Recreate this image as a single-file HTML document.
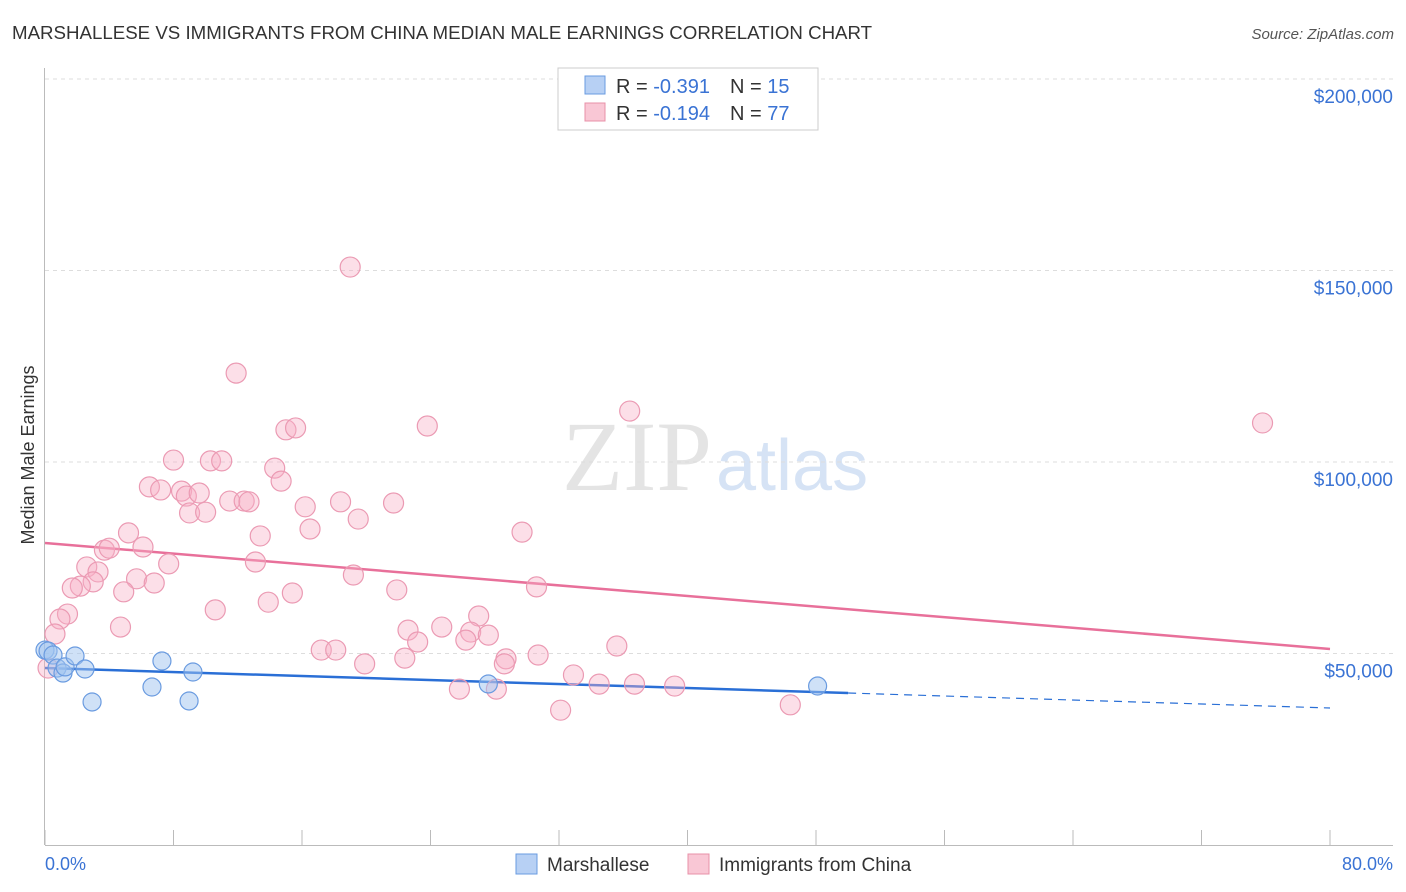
<!DOCTYPE html>
<html><head><meta charset="utf-8"><style>
body{margin:0;background:#fff;font-family:"Liberation Sans",sans-serif}
svg{display:block}
</style></head><body>
<svg id="chart" width="1406" height="892">
<text x="12" y="39" font-size="18.7" fill="#333">MARSHALLESE VS IMMIGRANTS FROM CHINA MEDIAN MALE EARNINGS CORRELATION CHART</text>
<text x="1394" y="39" font-size="15" fill="#555" font-style="italic" text-anchor="end">Source: ZipAtlas.com</text>
<text x="712" y="490" font-size="100" fill="#e4e4e4" text-anchor="end" font-family="Liberation Serif,serif">ZIP</text>
<text x="716" y="490" font-size="72" fill="#d6e3f5">atlas</text>
<text transform="translate(34,455) rotate(-90)" font-size="18" fill="#333" text-anchor="middle">Median Male Earnings</text>
<g id="grid"></g><g id="axes"></g><g id="trends"></g><g id="pts"></g>
<g>
<rect x="558" y="68" width="260" height="62" fill="#fff" stroke="#ccc"/>
<rect x="585" y="76" width="20" height="18" fill="#b7d0f4" stroke="#6a9be0"/>
<text x="616" y="93" font-size="20" fill="#333">R = <tspan fill="#3a73d4">-0.391</tspan><tspan dx="20">N = </tspan><tspan fill="#3a73d4">15</tspan></text>
<rect x="585" y="103" width="20" height="18" fill="#f9c7d5" stroke="#e890a8"/>
<text x="616" y="120" font-size="20" fill="#333">R = <tspan fill="#3a73d4">-0.194</tspan><tspan dx="20">N = </tspan><tspan fill="#3a73d4">77</tspan></text>
</g>
<text x="45" y="870" font-size="18" fill="#3a73d4">0.0%</text>
<text x="1393" y="870" font-size="18" fill="#3a73d4" text-anchor="end">80.0%</text>
<g>
<rect x="516" y="854" width="21" height="20" fill="#b7d0f4" stroke="#6a9be0"/>
<text x="547" y="871" font-size="19" fill="#333">Marshallese</text>
<rect x="688" y="854" width="21" height="20" fill="#f9c7d5" stroke="#e890a8"/>
<text x="719" y="871" font-size="19" fill="#333">Immigrants from China</text>
</g>
</svg>
<script>
const yTicks=[50000,100000,150000,200000];
const yTickLabels=["$50,000","$100,000","$150,000","$200,000"];
const xTicks=[0,8,16,24,32,40,48,56,64,72,80];
const blueX=[0,0.19,0.5,0.75,1.12,1.25,1.87,2.49,2.93,6.66,7.28,8.97,9.21,27.6,48.1];
const blueY=[50900,50650,49600,46200,44900,46500,49350,45950,37340,41250,48040,37600,45170,42040,41510];
const pinkX=[19.0,11.9,36.4,75.8,23.8,15.0,15.6,8.0,10.3,11.0,14.3,14.7,6.5,7.2,8.5,8.8,9.6,11.5,12.4,12.7,18.4,21.7,16.2,9.0,10.0,19.5,16.5,29.7,5.2,13.4,6.1,3.7,4.0,13.1,7.7,2.6,3.3,19.2,5.7,3.0,2.2,1.7,6.8,30.6,4.9,21.9,15.4,13.9,10.6,1.4,0.93,27.0,4.7,0.62,22.6,24.7,26.5,27.6,26.2,23.2,35.6,17.2,18.1,30.7,28.7,22.4,28.6,19.9,0.19,32.9,34.5,36.7,39.2,25.8,28.1,32.1,46.4];
const pinkY=[150900,123200,113300,110200,109400,108400,108900,100500,100300,100300,98400,95000,93500,92700,92400,91100,91900,89800,89800,89600,89600,89300,88300,86700,86900,85100,82500,81700,81500,80700,77800,77000,77500,73900,73400,72600,71300,70500,69500,68700,67600,67100,68400,67400,66100,66600,65800,63400,61400,60300,59000,59800,56900,55100,56100,56900,55600,54800,53500,53000,51960,50900,50900,49600,48600,48800,47300,47300,46200,44400,42000,42000,41500,40700,40700,35200,36600];
const pinkTrend=[78850,51180];
const blueTrend=[46200,35770];
const blueSolidEnd=50;
const NS="http://www.w3.org/2000/svg";
const xs=v=>45+v/80*1285;
const ys=v=>845-v/50000*191.5;
function mk(t,a,p){const e=document.createElementNS(NS,t);for(const k in a)e.setAttribute(k,a[k]);document.getElementById(p).appendChild(e);return e;}
yTicks.forEach((t,i)=>{
 const l=mk('line',{x1:45,x2:1393,y1:ys(t),y2:ys(t),stroke:'#ddd','stroke-dasharray':'4,4'},'grid');
 
 
 const tx=mk('text',{x:1393,y:ys(t)+24,'font-size':19,fill:'#3a73d4','text-anchor':'end'},'grid');
 tx.textContent=yTickLabels[i];
 
 
});
let a=mk('line',{x1:44.5,x2:44.5,y1:68,y2:845,stroke:'#bbb'},'axes');


a=mk('line',{x1:45,x2:1393,y1:845.5,y2:845.5,stroke:'#bbb'},'axes');


xTicks.forEach(t=>{
 const l=mk('line',{x1:xs(t),x2:xs(t),y1:830,y2:845,stroke:'#bbb'},'axes');
 
 
});
const pt=(x)=>pinkTrend[0]+(pinkTrend[1]-pinkTrend[0])*x/80;
const bt=(x)=>blueTrend[0]+(blueTrend[1]-blueTrend[0])*x/80;
let t=mk('line',{x1:xs(0),y1:ys(pt(0)),x2:xs(80),y2:ys(pt(80)),stroke:'#e8709a','stroke-width':2.5},'trends');


t=mk('line',{x1:xs(0),y1:ys(bt(0)),x2:xs(blueSolidEnd),y2:ys(bt(blueSolidEnd)),stroke:'#2a6fd6','stroke-width':2.5},'trends');


t=mk('line',{x1:xs(blueSolidEnd),y1:ys(bt(blueSolidEnd)),x2:xs(80),y2:ys(bt(80)),stroke:'#2a6fd6','stroke-width':1.2,'stroke-dasharray':'8,6'},'trends');


pinkX.forEach((x,i)=>{
 const c=mk('circle',{cx:xs(x),cy:ys(pinkY[i]),r:10,fill:'rgba(248,175,198,0.4)',stroke:'#eb9ab3','stroke-width':1.2},'pts');
 
 
});
blueX.forEach((x,i)=>{
 const c=mk('circle',{cx:xs(x),cy:ys(blueY[i]),r:9,fill:'rgba(160,195,240,0.5)',stroke:'#6a9be0','stroke-width':1.2},'pts');
 
 
});
</script>
</body></html>
